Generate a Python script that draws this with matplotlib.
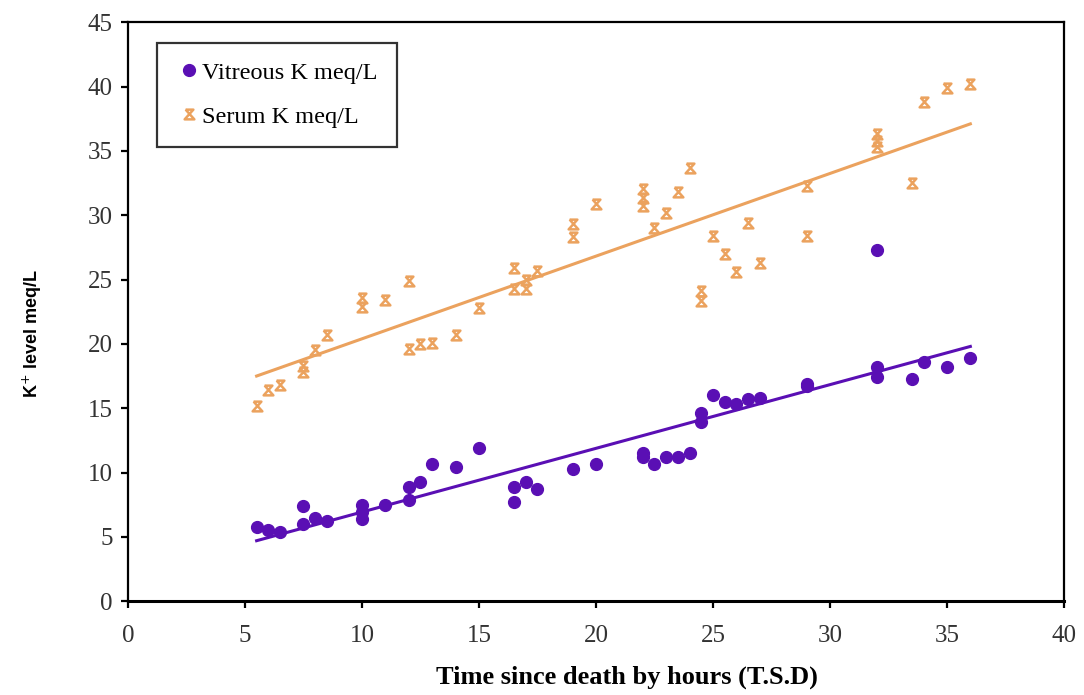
import matplotlib
matplotlib.use("Agg")
import matplotlib.pyplot as plt
from matplotlib.path import Path

# vitreous potassium (meq/L) vs time since death (h)
vitreous_x = [5.5, 6, 6.5, 7.5, 7.5, 8, 8.5, 10, 10, 10, 11, 12, 12, 12.5, 13,
              14, 15, 16.5, 16.5, 17, 17.5, 19, 20, 22, 22, 22.5, 23, 23.5, 24,
              24.5, 24.5, 25, 25.5, 26, 26.5, 27, 29, 29, 32, 32, 32, 33.5, 34,
              35, 36]
vitreous_y = [5.75, 5.5, 5.35, 7.4, 6.0, 6.5, 6.2, 7.5, 6.9, 6.4, 7.5, 8.9, 7.9,
              9.3, 10.7, 10.4, 11.9, 8.9, 7.7, 9.3, 8.7, 10.3, 10.7, 11.5, 11.2,
              10.7, 11.2, 11.2, 11.5, 14.6, 13.9, 16.0, 15.5, 15.3, 15.7, 15.8,
              16.9, 16.7, 27.3, 18.2, 17.4, 17.3, 18.6, 18.2, 18.9]

# serum potassium
serum_x = [5.5, 6, 6.5, 7.5, 7.5, 8, 8.5, 10, 10, 11, 12, 12, 12.5, 13, 14, 15,
           16.5, 16.5, 17, 17, 17.5, 19, 19, 20, 22, 22, 22, 22.5, 23, 23.5, 24,
           24.5, 24.5, 25, 25.5, 26, 26.5, 27, 29, 29, 32, 32, 32, 33.5, 34, 35,
           36]
serum_y = [15.2, 16.4, 16.8, 17.8, 18.3, 19.5, 20.7, 22.9, 23.6, 23.4, 24.9,
           19.6, 20.0, 20.1, 20.7, 22.8, 25.9, 24.3, 25.0, 24.3, 25.7, 29.3,
           28.3, 30.9, 32.0, 31.3, 30.7, 29.0, 30.2, 31.8, 33.7, 24.1, 23.3,
           28.4, 27.0, 25.6, 29.4, 26.3, 32.3, 28.4, 36.3, 35.8, 35.3, 32.5,
           38.8, 39.9, 40.2]

# linear trend lines as drawn in the figure
trend_x = [5.5, 36]
vitreous_trend = [4.7, 19.8]
serum_trend = [17.5, 37.1]

purple = "#5a0fb4"
orange = "#eba25e"

# x marker closed with a bar on top and bottom
hourglass = Path(
    [(-0.8, 1), (0.8, 1), (-1, -1), (1, -1), (-0.8, 1)],
    [Path.MOVETO, Path.LINETO, Path.LINETO, Path.LINETO, Path.LINETO],
)

fig = plt.figure(figsize=(10.84, 6.95), dpi=100)
ax = fig.add_axes([0.118, 0.135, 0.8635, 0.833])

ax.plot(trend_x, serum_trend, color=orange, lw=2.2, zorder=2)
ax.plot(trend_x, vitreous_trend, color=purple, lw=2.2, zorder=2)
ax.plot(vitreous_x, vitreous_y, "o", color=purple, ms=8.5, ls="none",
        label="Vitreous K meq/L", zorder=3)
ax.plot(serum_x, serum_y, marker=hourglass, color=orange, mfc="none",
        mec=orange, mew=1.8, ms=7, ls="none", label="Serum K meq/L", zorder=3)

ax.set_xlim(0, 40)
ax.set_ylim(0, 45)
ax.set_xticks(range(0, 41, 5))
ax.set_yticks(range(0, 46, 5))

for s in ax.spines.values():
    s.set_linewidth(1.6)
    s.set_color("black")
ax.spines["bottom"].set_linewidth(2.2)
ax.tick_params(direction="out", length=5, width=1.6)
ax.tick_params(axis="x", pad=12)
ax.tick_params(axis="y", pad=6)
for lab in ax.get_xticklabels() + ax.get_yticklabels():
    lab.set_fontfamily("Liberation Serif")
    lab.set_fontsize(18)
    lab.set_color("#333333")

ax.set_xlabel("Time since death by hours (T.S.D)", fontfamily="Liberation Serif",
              fontweight="bold", fontsize=19, va="center")
ax.xaxis.set_label_coords(0.533, -0.131)
ax.set_ylabel("K$^{+}$ level meq/L", fontfamily="Liberation Sans",
              fontweight="bold", fontsize=13, va="center")
ax.yaxis.set_label_coords(-0.102, 0.463)

leg = ax.legend(loc="upper left", bbox_to_anchor=(0.031, 0.965), frameon=True,
                fancybox=False, prop={"family": "Liberation Serif", "size": 17.5},
                handletextpad=0.05, handlelength=1.0, borderpad=0.8,
                labelspacing=0.9, borderaxespad=0)
leg.get_frame().set_edgecolor("black")
leg.get_frame().set_linewidth(1.6)

fig.savefig("out.png", dpi=100)
